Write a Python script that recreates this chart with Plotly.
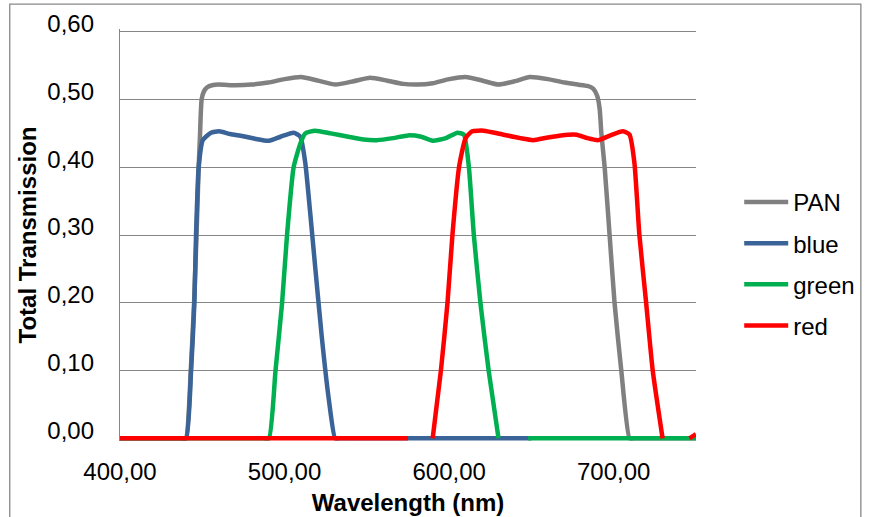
import plotly.graph_objects as go

# ---- data (wavelength in nm, total transmission) ----
pan_wl = [400, 437, 440, 443, 445, 446.5, 447.8, 448.5, 449.6, 451, 453, 456, 460, 470, 480, 490,
          500, 510, 520, 531, 542, 552, 562, 572, 581, 590, 600, 610, 620, 630, 640, 649,
          660, 670, 678, 684, 687.5, 690, 691.5, 692.5, 694.5, 697.5, 700.5, 704.6, 709.6, 712, 750]
pan_t = [0, 0, 0, 0.10, 0.20, 0.30, 0.40, 0.44, 0.50, 0.512, 0.518, 0.521, 0.522, 0.521, 0.522, 0.525,
         0.530, 0.533, 0.528, 0.522, 0.527, 0.532, 0.528, 0.523, 0.522, 0.524, 0.530, 0.533, 0.528,
         0.522, 0.527, 0.533, 0.530, 0.525, 0.522, 0.520, 0.516, 0.505, 0.485, 0.45, 0.40, 0.30,
         0.20, 0.10, 0, 0, 0]

blue_wl = [400, 437, 440.2, 443.2, 445.2, 446.2, 447.8, 450.3, 455.3, 460.3, 467, 474.4, 482, 490.5,
           497.5, 505.5, 509.6, 512.6, 515.6, 518.6, 522.6, 526.7, 530.7, 533, 650]
blue_t = [0, 0, 0, 0.10, 0.20, 0.30, 0.40, 0.44, 0.451, 0.453, 0.449, 0.446, 0.442, 0.439,
          0.445, 0.451, 0.445, 0.406, 0.332, 0.253, 0.15, 0.061, 0, 0, 0]

green_wl = [400, 487, 490.5, 494.5, 498.5, 501.5, 505.5, 509.6, 512.6, 518.6, 528, 538.7, 548, 556,
            566, 575, 583, 590, 598, 605, 609, 612, 615, 619, 624, 630, None, 648, 750]
green_t = [0, 0, 0, 0.10, 0.20, 0.30, 0.40, 0.435, 0.450, 0.454, 0.450, 0.445, 0.441, 0.440,
           0.443, 0.447, 0.445, 0.439, 0.443, 0.451, 0.448, 0.40, 0.30, 0.20, 0.10, 0, None, 0, 0]

red_wl = [400, 575, None, 590, 595, 599, 602, 606, 610, 614, 621, 633, 643, 651, 660, 668, 677.4,
          684, 690.5, 698, 705.6, 709.6, 712.6, 715.6, 719.7, 723.7, 729.7, None, 746, 750]
red_t = [0, 0, None, 0, 0.10, 0.20, 0.30, 0.40, 0.443, 0.453, 0.454, 0.448, 0.443, 0.440, 0.444,
         0.447, 0.448, 0.443, 0.440, 0.447, 0.453, 0.448, 0.406, 0.30, 0.20, 0.10, 0, None, 0, 0.006]

series_names = ["PAN", "blue", "green", "red"]
series_colors = ["#808080", "#3A6397", "#00B050", "#FF0000"]
x_ticks = [400, 500, 600, 700]
y_ticks = [0, 0.1, 0.2, 0.3, 0.4, 0.5, 0.6]

FONT = "Liberation Sans, Arial, sans-serif"

fig = go.Figure()
for name, color, xs, ys in zip(series_names, series_colors,
                               [pan_wl, blue_wl, green_wl, red_wl],
                               [pan_t, blue_t, green_t, red_t]):
    fig.add_trace(go.Scatter(
        x=xs, y=ys, name=name, mode="lines", legendgroup=name,
        line=dict(color=color, width=4.5, shape="spline", smoothing=0.5),
        connectgaps=False,
    ))

fig.update_layout(
    width=872, height=517,
    margin=dict(l=120, r=172, t=29, b=76),
    paper_bgcolor="white", plot_bgcolor="white",
    separators=",.",
    font=dict(family=FONT, size=24, color="#000000"),
    showlegend=True,
    legend=dict(
        x=1.075, xanchor="left", y=0.43, yanchor="middle",
        font=dict(family=FONT, size=24, color="#000000"),
        traceorder="grouped", tracegroupgap=7,
        bgcolor="rgba(0,0,0,0)", itemwidth=44,
    ),
    xaxis=dict(
        range=[400, 750], tickvals=x_ticks, tickformat=".2f",
        showgrid=False, zeroline=False, showline=False, ticks="",
        tickfont=dict(family=FONT, size=24), automargin=False,
        ticklabelstandoff=14,
        title=dict(text="<b>Wavelength (nm)</b>", font=dict(family=FONT, size=24), standoff=10),
    ),
    yaxis=dict(
        range=[-0.004, 0.604], tickvals=y_ticks, tickformat=".2f",
        showgrid=True, gridcolor="#868686", gridwidth=1.3, zeroline=False,
        showline=True, linecolor="#868686", linewidth=1.3, ticks="",
        tickfont=dict(family=FONT, size=24), automargin=False,
        ticklabelstandoff=20, ticklabelshift=-8,
        title=dict(text="<b>Total Transmission</b>", font=dict(family=FONT, size=24), standoff=3),
    ),
    shapes=[dict(type="rect", xref="paper", yref="paper",
                 x0=-0.1914, x1=1.2862, y0=-0.22, y1=1.0604,
                 line=dict(color="#888888", width=1.3), layer="below")],
)

fig.write_html("out.html", config={"displayModeBar": False},
               post_script="document.body.style.margin='0';document.body.style.overflow='hidden';")
